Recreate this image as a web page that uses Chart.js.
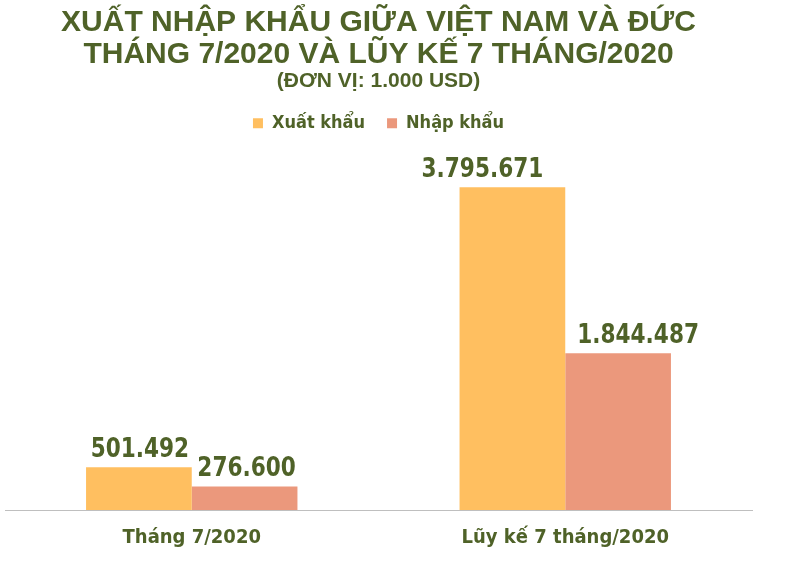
<!DOCTYPE html>
<html lang="vi">
<head>
<meta charset="utf-8">
<script src="https://cdn.jsdelivr.net/npm/chart.js@4.4.1/dist/chart.umd.min.js"></script>
<style>
  html, body { margin: 0; padding: 0; background: #fff; }
  #wrap { width: 797px; height: 567px; }
</style>
</head>
<body>
<div id="wrap"><canvas id="tradeChart" width="797" height="567"></canvas></div>
<script>
const categories = ["Tháng 7/2020", "Lũy kế 7 tháng/2020"];
const exportValues = [501492, 3795671];
const importValues = [276600, 1844487];
const seriesNames = ["Xuất khẩu", "Nhập khẩu"];

const textColor = "#4f6228";
const narrowFont = "'DejaVu Sans Condensed', 'Liberation Sans Narrow', Arial, sans-serif";

// nudges for the value labels, as placed in the original (px, per dataset)
const labelShift = [[1, -30], [2, 20]];

const fmt = (v) => String(v).replace(/\B(?=(\d{3})+(?!\d))/g, ".");

const valueLabels = {
  id: "valueLabels",
  afterDatasetsDraw(chart) {
    const ctx = chart.ctx;
    chart.data.datasets.forEach((ds, i) => {
      chart.getDatasetMeta(i).data.forEach((bar, j) => {
        ctx.save();
        ctx.translate(bar.x + labelShift[i][j], bar.y - 10);
        ctx.scale(0.89, 1);
        ctx.fillStyle = textColor;
        ctx.font = "bold 27px " + narrowFont;
        ctx.textAlign = "center";
        ctx.textBaseline = "alphabetic";
        ctx.fillText(fmt(ds.data[j]), 0, 0);
        ctx.restore();
      });
    });
  },
};

new Chart(document.getElementById("tradeChart"), {
  type: "bar",
  data: {
    labels: categories,
    datasets: [
      {
        label: seriesNames[0],
        data: exportValues,
        backgroundColor: "#ffbf60",
        barPercentage: 1,
        categoryPercentage: 0.566,
      },
      {
        label: seriesNames[1],
        data: importValues,
        backgroundColor: "#eb987c",
        barPercentage: 1,
        categoryPercentage: 0.566,
      },
    ],
  },
  options: {
    responsive: false,
    animation: false,
    layout: { padding: { left: 5, right: 45, bottom: 9 } },
    plugins: {
      title: {
        display: true,
        text: ["XUẤT NHẬP KHẨU GIỮA VIỆT NAM VÀ ĐỨC", "THÁNG 7/2020 VÀ LŨY KẾ 7 THÁNG/2020"],
        color: textColor,
        font: { family: "'Liberation Sans', Arial, sans-serif", size: 30, weight: "bold", lineHeight: 1.07 },
        padding: { top: 7, bottom: 0 },
      },
      subtitle: {
        display: true,
        text: "(ĐƠN VỊ: 1.000 USD)",
        color: textColor,
        font: { family: "'Liberation Sans', Arial, sans-serif", size: 21, weight: "bold", lineHeight: 1.0 },
        padding: { top: 0, bottom: 0 },
      },
      legend: {
        position: "top",
        labels: {
          color: textColor,
          boxWidth: 10,
          boxHeight: 10,
          padding: 22,
          font: { family: narrowFont, size: 18, weight: "bold" },
        },
      },
      tooltip: { enabled: false },
    },
    scales: {
      x: {
        grid: { display: false },
        border: { color: "#bfbfbf", width: 1 },
        ticks: {
          color: textColor,
          padding: 8,
          font: { family: narrowFont, size: 20, weight: "bold" },
        },
      },
      y: {
        display: false,
        min: 0,
        max: 4325000,
      },
    },
  },
  plugins: [valueLabels],
});
</script>
</body>
</html>
